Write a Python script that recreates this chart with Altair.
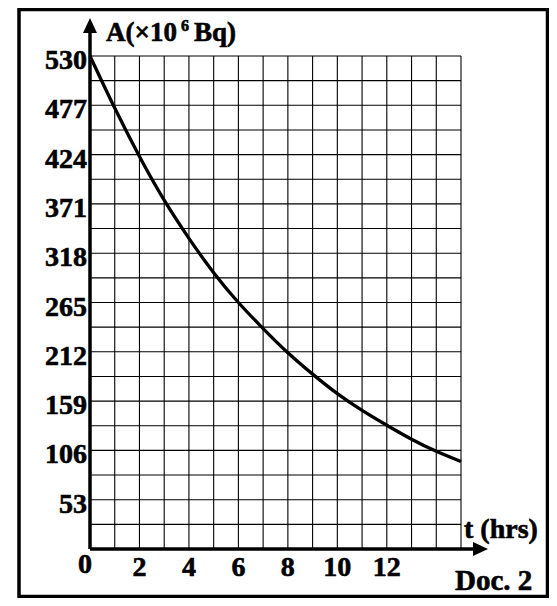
import altair as alt
import pandas as pd

# ---- data ----
t_hours = [0, 1, 2, 3, 4, 5, 6, 7, 8, 9, 10, 11, 12, 13, 14, 15]
activity = [530, 474, 422, 375, 334, 297, 265, 237, 211, 188, 167, 149, 133, 118, 105, 94]

y_tick_labels = [53, 106, 159, 212, 265, 318, 371, 424, 477, 530]
x_tick_labels = [2, 4, 6, 8, 10, 12]
x_zero_label = [0]

grid_t = [0, 1, 2, 3, 4, 5, 6, 7, 8, 9, 10, 11, 12, 13, 14, 15]
grid_a = [0, 26.5, 53, 79.5, 106, 132.5, 159, 185.5, 212, 238.5, 265,
          291.5, 318, 344.5, 371, 397.5, 424, 450.5, 477, 503.5, 530]

FONT = "Liberation Serif"
W, H = 371, 493

xs = alt.Scale(domain=[0, 15], nice=False, zero=False)
ys = alt.Scale(domain=[0, 530], nice=False, zero=False)

curve_df = pd.DataFrame({"t": t_hours, "A": activity})
one = pd.DataFrame({"k": [0]})

vgrid = alt.Chart(pd.DataFrame({"t": grid_t})).mark_rule(
    color="black", strokeWidth=1.1
).encode(x=alt.X("t:Q", scale=xs, axis=None))

hgrid = alt.Chart(pd.DataFrame({"A": grid_a})).mark_rule(
    color="black", strokeWidth=1.1
).encode(y=alt.Y("A:Q", scale=ys, axis=None))

curve = alt.Chart(curve_df).mark_line(
    color="black", strokeWidth=3.3, interpolate="natural"
).encode(
    x=alt.X("t:Q", scale=xs, axis=None),
    y=alt.Y("A:Q", scale=ys, axis=None),
)

y_axis_line = alt.Chart(one).mark_rule(color="black", strokeWidth=3.5).encode(
    x=alt.value(0), y=alt.value(-25), y2=alt.value(H)
)
x_axis_line = alt.Chart(one).mark_rule(color="black", strokeWidth=3.5).encode(
    x=alt.value(0), x2=alt.value(385), y=alt.value(H)
)

up_arrow = alt.Chart(one).mark_point(
    shape="M0,-1L0.93,1L-0.93,1Z", filled=True, size=225, color="black", opacity=1
).encode(x=alt.value(0), y=alt.value(-30.5))

right_arrow = alt.Chart(one).mark_point(
    shape="M1,0L-1,0.93L-1,-0.93Z", filled=True, size=225, color="black", opacity=1
).encode(x=alt.value(390.5), y=alt.value(H))

frame = alt.Chart(one).mark_rect(
    fillOpacity=0, stroke="black", strokeWidth=3.5
).encode(x=alt.value(-71), x2=alt.value(457.5), y=alt.value(-46.5), y2=alt.value(540.5))

TXT = dict(font=FONT, fontWeight="bold", color="black", stroke="black", strokeWidth=0.6)

y_labels = alt.Chart(pd.DataFrame({"A": y_tick_labels})).mark_text(
    align="right", baseline="middle", dy=5, fontSize=28, **TXT
).encode(
    x=alt.value(-3),
    y=alt.Y("A:Q", scale=ys, axis=None),
    text=alt.Text("A:Q"),
)

x_labels = alt.Chart(pd.DataFrame({"t": x_tick_labels})).mark_text(
    align="center", baseline="middle", fontSize=28, **TXT
).encode(
    x=alt.X("t:Q", scale=xs, axis=None),
    y=alt.value(512),
    text=alt.Text("t:Q"),
)

x_zero = alt.Chart(pd.DataFrame({"t": x_zero_label})).mark_text(
    align="center", baseline="middle", dx=-5, fontSize=28, **TXT
).encode(
    x=alt.X("t:Q", scale=xs, axis=None),
    y=alt.value(509),
    text=alt.Text("t:Q"),
)

def label(txt, x, y, size, align="left"):
    return alt.Chart(one).mark_text(
        align=align, baseline="alphabetic", fontSize=size, text=txt, **TXT
    ).encode(x=alt.value(x), y=alt.value(y))

title_a = label("A(×10", 16, -15, 27)
title_6 = label("6", 91, -25, 16)
title_b = label("Bq)", 104, -15, 27)
t_label = label("t (hrs)", 374, 482, 28)
doc_label = label("Doc. 2", 365, 534, 29)

chart = alt.layer(
    vgrid, hgrid, curve, y_axis_line, x_axis_line, up_arrow, right_arrow,
    frame, y_labels, x_labels, x_zero, title_a, title_6, title_b, t_label, doc_label
).properties(
    width=W, height=H,
    autosize=alt.AutoSizeParams(type="none"),
    padding={"left": 82, "top": 48, "right": 88, "bottom": 49},
).configure_view(stroke=None)

chart.save("out.html", embed_options={"renderer": "svg", "actions": False})
